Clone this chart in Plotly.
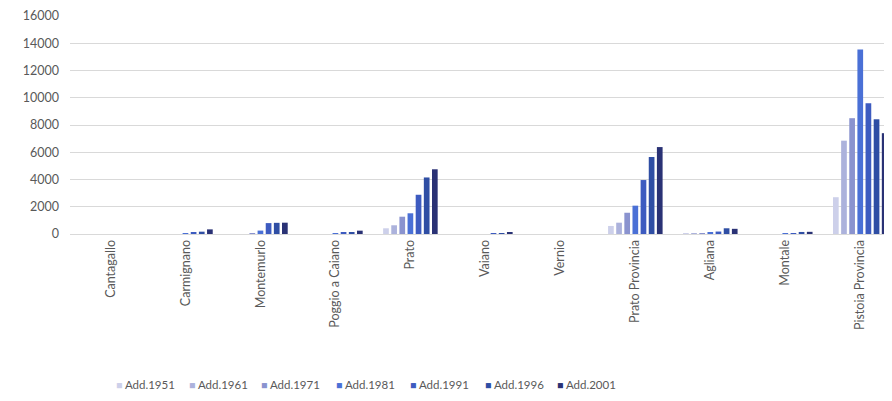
import plotly.graph_objects as go

categories = ["Cantagallo", "Carmignano", "Montemurlo", "Poggio a Caiano", "Prato",
              "Vaiano", "Vernio", "Prato Provincia", "Agliana", "Montale", "Pistoia Provincia"]

add_1951 = [0, 0, 0, 0, 420, 0, 0, 590, 10, 0, 2700]
add_1961 = [0, 0, 0, 0, 640, 0, 0, 830, 20, 0, 6850]
add_1971 = [0, 0, 10, 0, 1270, 0, 0, 1560, 60, 0, 8500]
add_1981 = [0, 40, 250, 20, 1520, 0, 0, 2080, 90, 10, 13550]
add_1991 = [0, 120, 800, 110, 2880, 15, 0, 3960, 180, 20, 9600]
add_1996 = [0, 170, 820, 120, 4150, 30, 0, 5650, 420, 150, 8420]
add_2001 = [0, 340, 830, 245, 4750, 80, 0, 6380, 380, 160, 7400]

series_names = ["Add.1951", "Add.1961", "Add.1971", "Add.1981", "Add.1991", "Add.1996", "Add.2001"]
series_values = [add_1951, add_1961, add_1971, add_1981, add_1991, add_1996, add_2001]
colors = ["#cdd0ea", "#acb2dc", "#8a93cf", "#4a70d6", "#3d5bc0", "#2f4ea4", "#2a3275"]
legend_swatch_px = [116, 189, 261, 336, 410, 485, 557]  # legend swatch starts (page px)

PAGE_OFFSET = 8  # default body margin of the html page
FIG_W, FIG_H = 892, 401

fig = go.Figure()
legend_layouts = {}
for i, (name, vals, col) in enumerate(zip(series_names, series_values, colors)):
    key = "legend" if i == 0 else f"legend{i + 1}"
    fig.add_trace(go.Bar(x=categories, y=vals, name=name, marker_color=col,
                         marker_line_width=0, showlegend=False))
    # legend-only entry: swatch drawn as a coloured square glyph next to the label
    label = f'<span style="color:{col}; font-size:10.5px">■</span> {name}'
    fig.add_trace(go.Scatter(x=[None], y=[None], mode="markers", name=label,
                             marker=dict(symbol="square", size=1, color="rgba(0,0,0,0)"),
                             legend=key, showlegend=True, hoverinfo="skip"))
    legend_layouts[key] = dict(
        orientation="h", xref="container", yref="container",
        x=(legend_swatch_px[i] - 40 - PAGE_OFFSET) / FIG_W, xanchor="left",
        y=0.06, yanchor="middle", bgcolor="rgba(0,0,0,0)",
        font=dict(size=11.5, color="#595959"), itemwidth=30,
    )

font_family = "Lato, 'Open Sans', sans-serif"
fig.update_layout(
    width=FIG_W, height=FIG_H,
    margin=dict(l=62, r=0, t=8, b=175, autoexpand=False),
    paper_bgcolor="white", plot_bgcolor="white",
    barmode="group", bargap=0.24, bargroupgap=0.3,
    font=dict(family=font_family, size=12.5, color="#595959"),
    showlegend=True,
    xaxis=dict(range=[-0.54, 10.53], tickangle=-90, showgrid=False, automargin=False,
               showline=True, linecolor="#d9d9d9", linewidth=1,
               tickfont=dict(size=12.5, color="#595959"), ticks=""),
    yaxis=dict(range=[0, 16000], dtick=2000, showgrid=True, gridcolor="#d9d9d9",
               gridwidth=1, zeroline=False, showline=False, automargin=False,
               tickfont=dict(size=12.5, color="#595959"), ticks="",
               ticklabelstandoff=10, tickformat="d"),
    **legend_layouts,
)

fig.write_html("out.html")
